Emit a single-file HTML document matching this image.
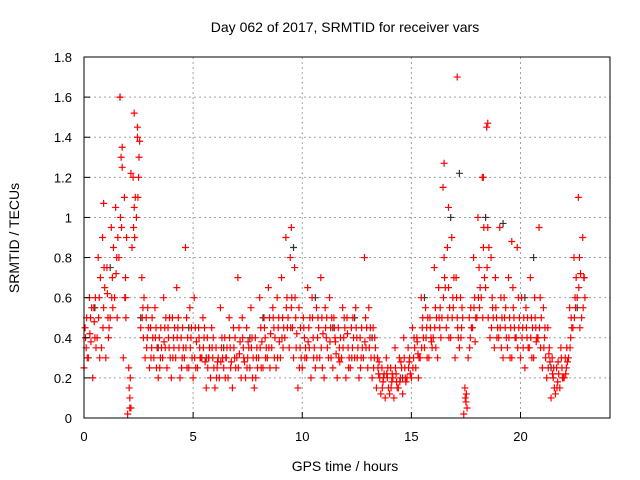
<!DOCTYPE html>
<html><head><meta charset="utf-8"><style>
body{margin:0;background:#fff;}
svg{display:block;font-family:"Liberation Sans",sans-serif;}
</style></head><body>
<svg id="chart" width="640" height="480">
<text x="345" y="32" text-anchor="middle" font-size="14">Day 062 of 2017, SRMTID for receiver vars</text>
<text x="345" y="471" text-anchor="middle" font-size="14">GPS time / hours</text>
<text transform="translate(19,238) rotate(-90)" text-anchor="middle" font-size="14">SRMTID / TECUs</text>
<g id="grid"></g><g id="marks"></g><g id="axes"></g>
</svg>
<script>
const xTicks=[0,5,10,15,20];
const yTicks=[0,0.2,0.4,0.6,0.8,1,1.2,1.4,1.6,1.8];
const times=[0,0.2,0.4,0.6,0.8,1,1.2,1.4,1.6,1.8,2,2.2,2.4,2.6,2.8,3,3.2,3.4,3.6,3.8,4,4.2,4.4,4.6,4.8,5,5.2,5.4,5.6,5.8,6,6.2,6.4,6.6,6.8,7,7.2,7.4,7.6,7.8,8,8.2,8.4,8.6,8.8,9,9.2,9.4,9.6,9.8,10,10.2,10.4,10.6,10.8,11,11.2,11.4,11.6,11.8,12,12.2,12.4,12.6,12.8,13,13.2,13.4,13.6,13.8,14,14.2,14.4,14.6,14.8,15,15.2,15.4,15.6,15.8,16,16.2,16.4,16.6,16.8,17,17.2,17.4,17.6,17.8,18,18.2,18.4,18.6,18.8,19,19.2,19.4,19.6,19.8,20,20.2,20.4,20.6,20.8,21,21.2,21.4,21.6,21.8,22,22.2,22.4,22.6,22.8];
const redHigh=[0.45,0.6,0.55,0.8,0.9,0.75,0.95,1.05,1.6,1.1,0.25,1.2,1.45,0.7,0.5,0.45,0.55,0.4,0.6,0.45,0.5,0.65,0.4,0.85,0.55,0.6,0.45,0.5,0.4,0.45,0.35,0.55,0.4,0.5,0.45,0.7,0.5,0.45,0.55,0.4,0.6,0.5,0.65,0.55,0.6,0.7,0.9,0.8,0.75,0.55,0.5,0.65,0.6,0.55,0.7,0.55,0.6,0.5,0.45,0.55,0.5,0.45,0.55,0.4,0.8,0.55,0.45,0.3,0.25,0.3,0.25,0.35,0.3,0.4,0.35,0.45,0.4,0.6,0.55,0.5,0.75,0.65,1.15,0.85,0.9,0.7,0.6,0.15,0.5,0.8,1.0,1.2,1.45,0.8,0.7,0.95,0.6,0.7,0.65,0.85,0.6,0.55,0.7,0.6,0.95,0.55,0.45,0.3,0.25,0.35,0.3,0.55,0.8,1.1,0.9];
const redMid=[0.35,0.5,0.4,0.6,0.55,0.5,0.7,0.8,1.3,0.7,0.1,1.05,1.2,0.55,0.4,0.35,0.45,0.3,0.45,0.35,0.4,0.45,0.3,0.5,0.4,0.45,0.35,0.4,0.3,0.3,0.25,0.35,0.3,0.35,0.3,0.45,0.35,0.3,0.4,0.3,0.45,0.4,0.5,0.45,0.45,0.5,0.6,0.55,0.5,0.35,0.4,0.45,0.4,0.4,0.5,0.4,0.45,0.4,0.35,0.4,0.35,0.35,0.4,0.3,0.5,0.4,0.3,0.22,0.18,0.2,0.18,0.22,0.2,0.25,0.28,0.3,0.32,0.45,0.45,0.4,0.55,0.45,0.8,0.65,0.6,0.5,0.45,0.08,0.4,0.6,0.75,0.85,0.95,0.6,0.5,0.6,0.45,0.5,0.5,0.6,0.45,0.4,0.5,0.45,0.6,0.4,0.32,0.2,0.18,0.25,0.25,0.4,0.6,0.8,0.7];
const redLow=[0.25,0.3,0.2,0.4,0.35,0.3,0.5,0.6,0.8,0.3,0.02,0.85,1.0,0.45,0.3,0.25,0.3,0.2,0.3,0.25,0.2,0.3,0.2,0.3,0.25,0.2,0.25,0.3,0.15,0.2,0.15,0.2,0.25,0.2,0.15,0.3,0.2,0.2,0.25,0.15,0.3,0.25,0.3,0.35,0.25,0.3,0.4,0.35,0.3,0.15,0.25,0.3,0.2,0.25,0.3,0.2,0.3,0.25,0.2,0.3,0.2,0.25,0.3,0.2,0.3,0.25,0.2,0.15,0.12,0.1,0.12,0.1,0.15,0.12,0.2,0.2,0.25,0.3,0.35,0.3,0.4,0.3,0.5,0.45,0.4,0.3,0.35,0.02,0.3,0.45,0.5,0.6,0.65,0.4,0.35,0.4,0.3,0.35,0.3,0.4,0.3,0.25,0.35,0.3,0.4,0.25,0.2,0.1,0.12,0.15,0.2,0.3,0.45,0.6,0.5];
const redA=[0.3,0.55,0.35,0.7,0.65,0.45,0.85,0.9,1.25,0.9,0.05,1.1,1.38,0.6,0.45,0.4,0.35,0.35,0.5,0.3,0.45,0.35,0.35,0.4,0.3,0.38,0.3,0.28,0.35,0.25,0.3,0.3,0.35,0.28,0.25,0.38,0.28,0.35,0.3,0.25,0.38,0.35,0.42,0.4,0.38,0.45,0.5,0.45,0.42,0.3,0.35,0.5,0.35,0.45,0.42,0.35,0.5,0.32,0.4,0.45,0.3,0.4,0.35,0.35,0.45,0.3,0.35,0.2,0.22,0.15,0.2,0.15,0.25,0.18,0.22,0.35,0.3,0.4,0.5,0.35,0.5,0.4,0.65,0.55,0.7,0.4,0.5,0.05,0.45,0.5,0.65,0.7,0.85,0.5,0.45,0.5,0.4,0.45,0.4,0.5,0.5,0.35,0.45,0.4,0.5,0.3,0.28,0.15,0.22,0.2,0.28,0.45,0.7,0.72,0.6];
const redB=[0.4,0.42,0.48,0.5,0.45,0.62,0.6,0.72,1.0,0.6,0.15,0.95,1.1,0.5,0.35,0.3,0.4,0.25,0.38,0.4,0.3,0.4,0.25,0.35,0.35,0.3,0.4,0.35,0.25,0.35,0.2,0.28,0.2,0.4,0.35,0.25,0.4,0.25,0.35,0.2,0.35,0.45,0.35,0.5,0.3,0.4,0.55,0.45,0.6,0.25,0.45,0.38,0.5,0.3,0.35,0.45,0.38,0.45,0.3,0.35,0.42,0.3,0.45,0.25,0.38,0.35,0.25,0.25,0.15,0.22,0.15,0.25,0.18,0.3,0.25,0.25,0.38,0.35,0.4,0.45,0.45,0.5,0.6,0.5,0.5,0.6,0.4,0.1,0.35,0.55,0.6,0.5,0.75,0.45,0.55,0.45,0.5,0.4,0.55,0.35,0.4,0.45,0.4,0.5,0.45,0.35,0.25,0.22,0.15,0.3,0.22,0.35,0.5,0.65,0.55];
const redC=[0.5,0.38,0.6,0.3,0.75,0.4,0.55,0.5,0.95,0.5,0.2,0.9,1.3,0.4,0.55,0.5,0.25,0.45,0.35,0.5,0.35,0.5,0.45,0.25,0.45,0.25,0.3,0.45,0.3,0.4,0.28,0.4,0.3,0.25,0.4,0.32,0.3,0.38,0.2,0.35,0.25,0.3,0.25,0.3,0.5,0.35,0.45,0.6,0.35,0.45,0.3,0.35,0.3,0.5,0.25,0.5,0.3,0.38,0.28,0.5,0.25,0.5,0.3,0.45,0.35,0.45,0.4,0.28,0.2,0.25,0.22,0.18,0.28,0.2,0.3,0.4,0.2,0.5,0.3,0.38,0.35,0.55,0.7,0.4,0.55,0.45,0.55,0.12,0.55,0.38,0.55,0.95,0.5,0.55,0.4,0.35,0.55,0.3,0.45,0.45,0.35,0.5,0.3,0.38,0.35,0.45,0.35,0.25,0.28,0.2,0.35,0.5,0.55,0.45,0.7];
const extraT=[17.1,1.65,2.3,16.5,18.5,2.1,1.9,0.9,9.5,19.6,2.45,2.15,1.75,18.3,16.7];
const extraV=[1.7,1.6,1.52,1.27,1.47,0.05,0.6,1.07,0.95,0.88,1.4,1.22,1.35,1.2,1.05];
const blackT=[0.5,1.2,2.6,4.8,6.4,8.2,9.6,10.6,12.4,13.2,14.6,15.6,16.8,17.2,18.4,19.2,20.6,21.4,22.6,3.4,5.6,7.6,11.4,20.2];
const blackV=[0.55,0.75,0.5,0.45,0.35,0.5,0.85,0.6,0.5,0.4,0.2,0.6,1.0,1.22,1.0,0.97,0.8,0.25,0.55,0.35,0.3,0.4,0.45,0.6];

const X0=84,X1=610,Y0=418,Y1=57,XMAX=24.1,YMAX=1.8;
const sx=t=>X0+t/XMAX*(X1-X0);
const sy=v=>Y0-v/YMAX*(Y0-Y1);
const NS="http://www.w3.org/2000/svg";
const grid=document.getElementById('grid'),axes=document.getElementById('axes'),marks=document.getElementById('marks');
function mk(tag,attrs,parent){const e=document.createElementNS(NS,tag);for(const k in attrs)e.setAttribute(k,attrs[k]);parent.appendChild(e);return e;}
xTicks.forEach(t=>{
 const x=sx(t);
 if(t>0){const g=mk('line',{x1:x,x2:x,y1:Y1,y2:Y0,stroke:'#a0a0a0','stroke-dasharray':'2,3'},grid);
 
 }
 const tx=mk('text',{x:x,y:Y0+23,'text-anchor':'middle','font-size':'13'},axes);tx.textContent=t;
 
 
 mk('line',{x1:x,x2:x,y1:Y0,y2:Y0-6,stroke:'#000'},axes);
});
yTicks.forEach(v=>{
 const y=sy(v);
 if(v>0){const g=mk('line',{x1:X0,x2:X1,y1:y,y2:y,stroke:'#a0a0a0','stroke-dasharray':'2,3'},grid);
 
 }
 const tx=mk('text',{x:X0-12,y:y+5,'text-anchor':'end','font-size':'13'},axes);tx.textContent=(Math.round(v*10)/10).toString();
 
 
 mk('line',{x1:X0,x2:X0+6,y1:y,y2:y,stroke:'#000'},axes);
});
const frame=mk('rect',{x:X0,y:Y1,width:X1-X0,height:Y0-Y1,fill:'none',stroke:'#000'},axes);


function plus(ts,vs,color,name){
 let d='';
 for(let i=0;i<ts.length;i++){const x=sx(ts[i]),y=sy(vs[i]);d+=`M${x-3.5},${y}h7M${x},${y-3.5}v7`;}
 const p=mk('path',{d:d,stroke:color,'stroke-width':1.2,fill:'none'},marks);
 
 
}
plus(blackT,blackV,'#333','black-series-points');
plus(times,redLow,'#f00','red-series-low');
plus(times.map(t=>t+0.1),redMid,'#f00','red-series-mid');
plus(times.map(t=>t+0.05),redHigh,'#f00','red-series-high');
plus(times.map(t=>t+0.15),redA,'#f00','red-series-a');
plus(times.map(t=>t+0.07),redB,'#f00','red-series-b');
plus(times.map(t=>t+0.12),redC,'#f00','red-series-c');
plus(extraT,extraV,'#f00','red-series-extra');
</script>
</body></html>
